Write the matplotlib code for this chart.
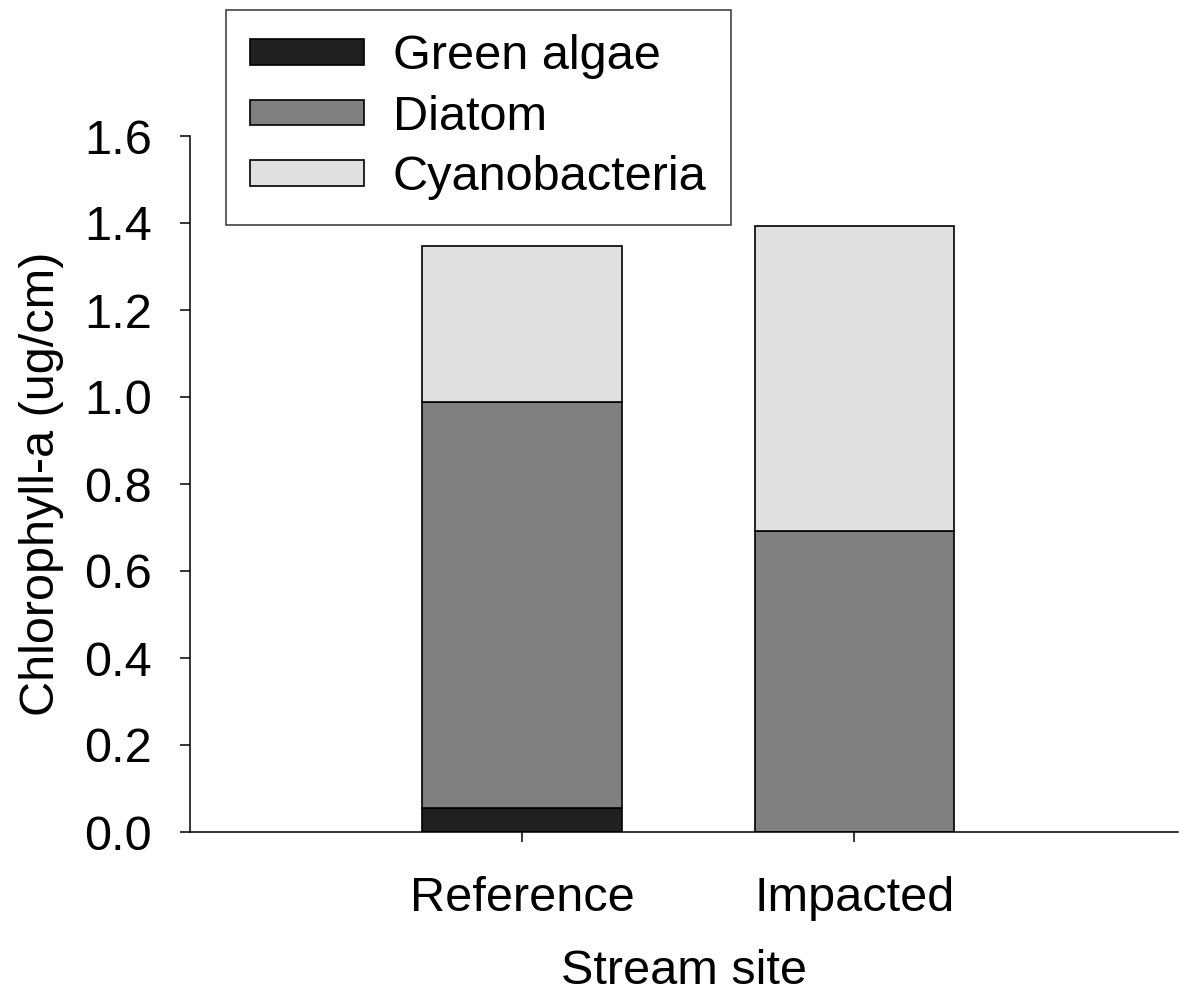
import matplotlib
matplotlib.use("Agg")
import matplotlib.pyplot as plt
import numpy as np

plt.rcParams['font.family'] = ['Liberation Sans', 'DejaVu Sans']

sites = ['Reference', 'Impacted']
green_algae = [0.055, 0.0]
diatom = [0.933, 0.692]
cyanobacteria = [0.359, 0.701]
yticks = [0.0, 0.2, 0.4, 0.6, 0.8, 1.0, 1.2, 1.4, 1.6]

W, H = 1179, 1002
fs = 35
fig = plt.figure(figsize=(W / 100, H / 100), dpi=100)
ax = fig.add_axes([190 / W, (H - 832) / H, 988 / W, 696 / H])

x = np.arange(1, len(sites) + 1)
bw = 0.6
kw = dict(width=bw, edgecolor='black', linewidth=1.2)
b1 = ax.bar(x, green_algae, color='#202020', label='Green algae', **kw)
b2 = ax.bar(x, diatom, bottom=green_algae, color='#808080', label='Diatom', **kw)
bottom2 = np.array(green_algae) + np.array(diatom)
b3 = ax.bar(x, cyanobacteria, bottom=bottom2, color='#e0e0e0', label='Cyanobacteria', **kw)

ax.set_xlim(0, 2.975)
ax.set_ylim(0, 1.6)
ax.set_xticks(x)
ax.set_xticklabels(sites)
ax.set_yticks(yticks)
ax.set_yticklabels([f'{v:.1f}' for v in yticks])
ax.tick_params(axis='both', direction='out', length=7.5, width=1.1, labelsize=fs)
ax.tick_params(axis='y', pad=20)
ax.tick_params(axis='x', pad=24)

for s in ['top', 'right']:
    ax.spines[s].set_visible(False)
for s in ['left', 'bottom']:
    ax.spines[s].set_linewidth(1.1)

ax.set_xlabel('Stream site', fontsize=fs, labelpad=20)
ax.set_ylabel('Chlorophyll-a (ug/cm)', fontsize=fs, labelpad=14)

leg = fig.legend(handles=[b1, b2, b3], loc='upper left',
                 bbox_to_anchor=(226 / W, 1 - 10 / H), fontsize=fs,
                 frameon=True, fancybox=False, edgecolor='black',
                 handlelength=2.33, handleheight=0.42, handletextpad=0.6,
                 labelspacing=0.32, borderpad=0.5, borderaxespad=0)
leg.get_frame().set_linewidth(1.1)

fig.savefig('out.png', dpi=100)
